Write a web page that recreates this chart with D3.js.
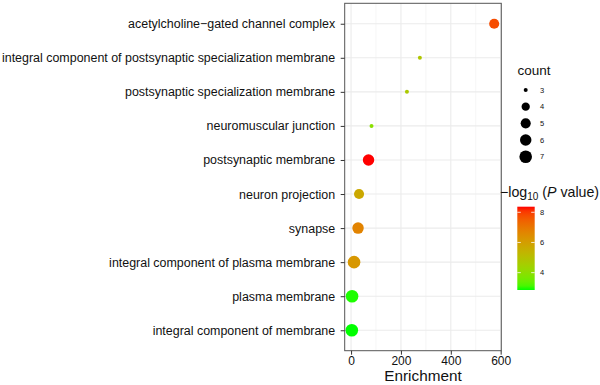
<!DOCTYPE html>
<html><head><meta charset="utf-8">
<script src="https://cdn.jsdelivr.net/npm/d3@7"></script>
<style>
html,body{margin:0;padding:0;background:#fff;}
svg{display:block;font-family:"Liberation Sans",Arial,sans-serif;}
</style></head>
<body><svg id="chart" width="600" height="385"></svg>
<script>
const terms = [
  "acetylcholine\u2212gated channel complex",
  "integral component of postsynaptic specialization membrane",
  "postsynaptic specialization membrane",
  "neuromuscular junction",
  "postsynaptic membrane",
  "neuron projection",
  "synapse",
  "integral component of plasma membrane",
  "plasma membrane",
  "integral component of membrane"
];
const enrichment = [574, 276, 224, 82, 70, 32, 28, 12, 4, 3];
const counts = [5, 3, 3, 3, 6, 5, 6, 7, 7, 7];
const logP = [7.8, 4.8, 4.7, 3.95, 8.37, 5.7, 6.7, 6.2, 2.9, 2.85];
const xTicks = [0, 200, 400, 600];
const xMinor = [100, 300, 500];
const countBreaks = [3, 4, 5, 6, 7];
const pBreaks = [4, 6, 8];

const svg = d3.select("#chart");
const panel = {l: 344.7, r: 501.3, t: 3.3, b: 350.7};

// x scale with ggplot-like 5% expansion
const xMin = d3.min(enrichment), xMax = d3.max(enrichment);
const xPad = (xMax - xMin) * 0.05;
const x = d3.scaleLinear().domain([xMin - xPad, xMax + xPad]).range([panel.l, panel.r]);
const y = d3.scalePoint().domain(terms).range([panel.t, panel.b]).padding(0.6);

const cMin = d3.min(counts), cMax = d3.max(counts);
const rLin = d3.scaleLinear().domain([0, 1]).range([2, 6.3]);
const r = c => rLin(Math.sqrt((c - cMin) / (cMax - cMin)));

const pMin = d3.min(logP), pMax = d3.max(logP);
const color = d3.scaleLinear().domain([pMin, pMax]).range(["#00ff00", "#ff0000"]).interpolate(d3.interpolateLab);

// grid
const g = svg.append("g");
g.selectAll(".minor").data(xMinor).join("line")
  .attr("x1", d => x(d)).attr("x2", d => x(d)).attr("y1", panel.t).attr("y2", panel.b)
  .attr("stroke", "#f0f0f0").attr("stroke-width", 0.6);
g.selectAll(".major").data(xTicks).join("line")
  .attr("x1", d => x(d)).attr("x2", d => x(d)).attr("y1", panel.t).attr("y2", panel.b)
  .attr("stroke", "#ebebeb").attr("stroke-width", 1.1);
g.selectAll(".hmajor").data(terms).join("line")
  .attr("x1", panel.l).attr("x2", panel.r).attr("y1", d => y(d)).attr("y2", d => y(d))
  .attr("stroke", "#ebebeb").attr("stroke-width", 1.1);

// points
const pts = terms.map((t, i) => ({t, e: enrichment[i], c: counts[i], p: logP[i]}));
svg.append("g").selectAll("circle").data(pts).join("circle")
  .attr("cx", d => x(d.e)).attr("cy", d => y(d.t)).attr("r", d => r(d.c))
  .attr("fill", d => color(d.p));

// border
svg.append("rect").attr("x", panel.l).attr("y", panel.t)
  .attr("width", panel.r - panel.l).attr("height", panel.b - panel.t)
  .attr("fill", "none").attr("stroke", "#555").attr("stroke-width", 1);

// x axis
const xAxis = svg.append("g").attr("transform", `translate(0,${panel.b})`)
  .call(d3.axisBottom(x).tickValues(xTicks).tickSize(4).tickPadding(2));
xAxis.select(".domain").remove();
xAxis.selectAll(".tick line").attr("stroke", "#333");
xAxis.selectAll(".tick text").attr("font-size", 12).attr("fill", "#111")
  .attr("font-family", "Liberation Sans, Arial, sans-serif");

// y axis
const yAxis = svg.append("g").attr("transform", `translate(${panel.l},0)`)
  .call(d3.axisLeft(y).tickSize(4).tickPadding(5.5));
yAxis.select(".domain").remove();
yAxis.selectAll(".tick line").attr("stroke", "#333");
yAxis.selectAll(".tick text").attr("font-size", 12.45).attr("fill", "#111")
  .attr("font-family", "Liberation Sans, Arial, sans-serif");

// x title
svg.append("text").attr("x", (panel.l + panel.r) / 2).attr("y", 381)
  .attr("text-anchor", "middle").attr("font-size", 15.3).attr("fill", "#111").text("Enrichment");

// size legend
svg.append("text").attr("x", 517.5).attr("y", 75).attr("font-size", 13.5).attr("fill", "#111").text("count");
const kY = d3.scaleLinear().domain([cMin, cMax]).range([90, 156.7]);
const kg = svg.append("g");
kg.selectAll("circle").data(countBreaks).join("circle")
  .attr("cx", 525.7).attr("cy", d => kY(d)).attr("r", d => r(d)).attr("fill", "#000");
kg.selectAll("text").data(countBreaks).join("text")
  .attr("x", 540).attr("y", d => kY(d)).attr("dy", "0.35em")
  .attr("font-size", 7.5).attr("fill", "#111").text(d => d);

// colour legend
const ct = svg.append("text").attr("x", 500).attr("y", 197).attr("font-size", 14.2).attr("fill", "#111");
ct.append("tspan").text("\u2212log");
ct.append("tspan").attr("font-size", 10).attr("dy", 2.5).text("10");
ct.append("tspan").attr("dy", -2.5).text(" (");
ct.append("tspan").attr("font-style", "italic").text("P");
ct.append("tspan").text(" value)");

const bar = {x: 517.3, w: 17.4, t: 206.7, b: 290};
const cy = d3.scaleLinear().domain([pMin, pMax]).range([bar.b, bar.t]);
const defs = svg.append("defs");
const grad = defs.append("linearGradient").attr("id", "pgrad")
  .attr("x1", 0).attr("y1", 1).attr("x2", 0).attr("y2", 0);
d3.range(0, 1.0001, 0.05).forEach(f => {
  grad.append("stop").attr("offset", f).attr("stop-color", color(pMin + f * (pMax - pMin)));
});
svg.append("rect").attr("x", bar.x).attr("y", bar.t).attr("width", bar.w).attr("height", bar.b - bar.t)
  .attr("fill", "url(#pgrad)");
const cg = svg.append("g");
cg.selectAll(".tl").data(pBreaks).join("line")
  .attr("x1", bar.x).attr("x2", bar.x + 3.5).attr("y1", d => cy(d)).attr("y2", d => cy(d))
  .attr("stroke", "#fff").attr("stroke-width", 0.8);
cg.selectAll(".tr").data(pBreaks).join("line")
  .attr("x1", bar.x + bar.w - 3.5).attr("x2", bar.x + bar.w).attr("y1", d => cy(d)).attr("y2", d => cy(d))
  .attr("stroke", "#fff").attr("stroke-width", 0.8);
cg.selectAll("text").data(pBreaks).join("text")
  .attr("x", 540).attr("y", d => cy(d)).attr("dy", "0.35em")
  .attr("font-size", 7.5).attr("fill", "#111").text(d => d);
</script></body></html>
